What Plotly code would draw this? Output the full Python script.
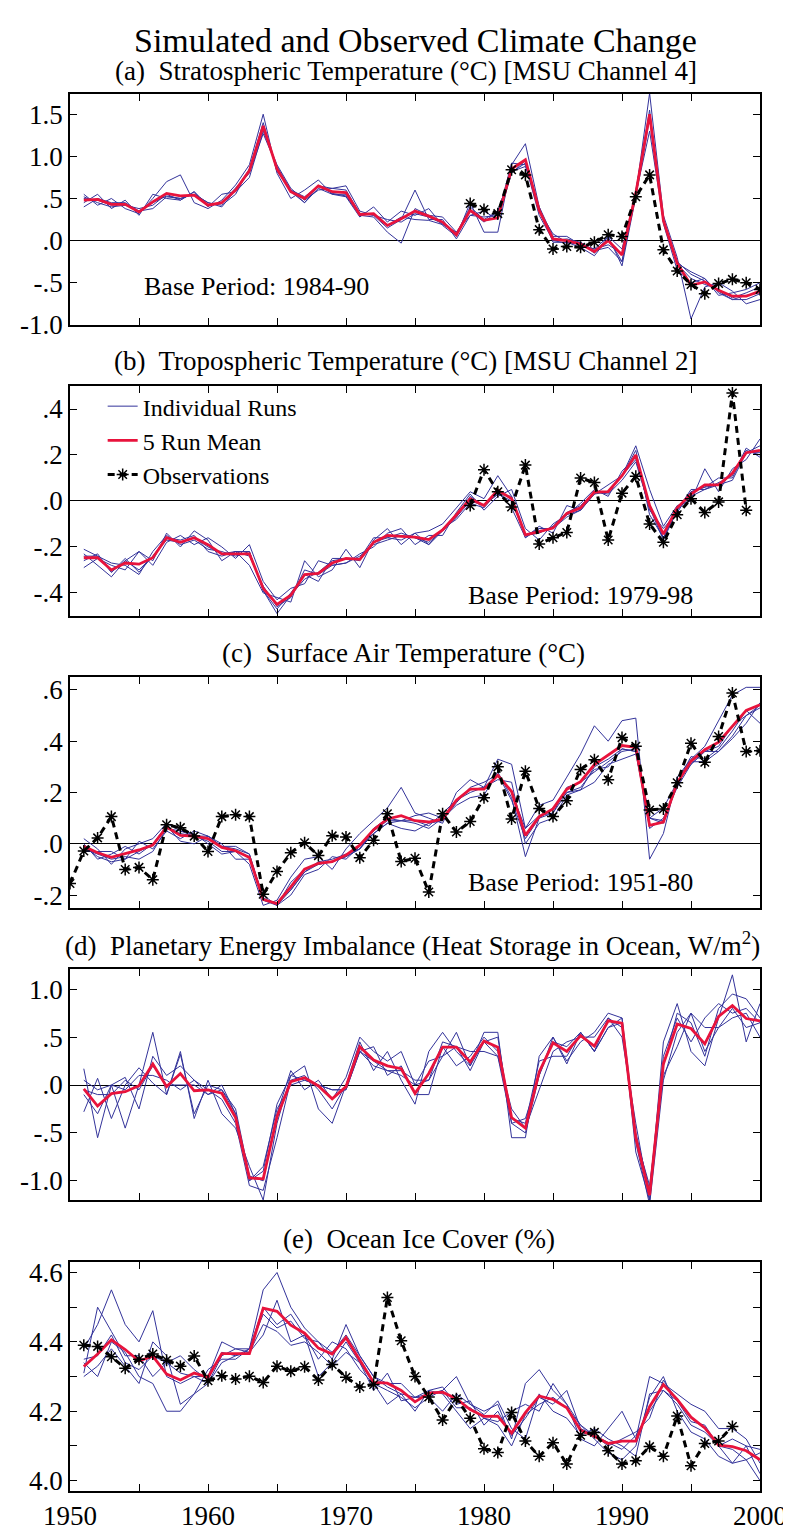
import plotly.graph_objects as go

FONT = "Liberation Serif, Times New Roman, DejaVu Serif, serif"
YEARS = list(range(1951, 2001))

# ---------------- (a) Stratospheric temperature ----------------
A_MEAN = [0.48,0.49,0.43,0.43,0.34,0.46,0.56,0.53,0.54,0.42,
          0.45,0.60,0.83,1.36,0.85,0.58,0.50,0.65,0.58,0.57,
          0.31,0.32,0.18,0.26,0.35,0.29,0.22,0.07,0.36,0.24,
          0.27,0.85,0.96,0.36,0.02,0.00,-0.04,-0.13,0.00,-0.17,
          0.56,1.50,0.24,-0.27,-0.53,-0.49,-0.59,-0.66,-0.66,-0.60]
A_RUN1 = [0.55,0.42,0.50,0.38,0.32,0.50,0.70,0.78,0.45,0.38,
          0.48,0.66,0.90,1.50,0.80,0.50,0.60,0.72,0.55,0.52,
          0.28,0.40,0.22,0.35,0.30,0.38,0.18,0.05,0.45,0.10,
          0.10,0.90,1.15,0.40,0.05,0.05,-0.05,-0.10,0.05,-0.10,
          0.55,1.75,0.30,-0.20,-0.93,-0.55,-0.50,-0.60,-0.75,-0.70]
A_RUN2 = [0.45,0.55,0.38,0.48,0.30,0.55,0.50,0.48,0.58,0.40,
          0.55,0.58,0.75,1.30,0.90,0.62,0.48,0.60,0.62,0.65,
          0.35,0.30,0.15,0.25,0.60,0.25,0.25,0.02,0.30,0.35,
          0.25,0.80,0.95,0.35,0.08,-0.02,-0.08,-0.18,0.03,-0.25,
          0.58,1.55,0.20,-0.35,-0.50,-0.45,-0.65,-0.62,-0.58,-0.50]
A_RUN3 = [0.40,0.50,0.45,0.45,0.35,0.38,0.52,0.50,0.55,0.45,
          0.42,0.55,0.85,1.40,0.82,0.60,0.45,0.62,0.55,0.55,
          0.30,0.28,0.10,-0.03,0.38,0.30,0.28,0.10,0.30,0.28,
          0.30,0.92,0.90,0.30,0.00,0.02,-0.02,-0.15,0.05,-0.30,
          0.52,1.45,0.25,-0.28,-0.45,-0.52,-0.58,-0.68,-0.62,-0.55]
A_RUN4 = [0.52,0.45,0.40,0.42,0.38,0.42,0.55,0.48,0.58,0.42,
          0.45,0.62,0.80,1.27,0.88,0.60,0.52,0.65,0.62,0.60,
          0.32,0.30,0.25,0.22,0.32,0.28,0.20,0.08,0.40,0.25,
          0.35,0.82,0.88,0.40,-0.02,-0.02,-0.05,-0.10,-0.05,-0.15,
          0.60,1.50,0.22,-0.25,-0.40,-0.48,-0.60,-0.70,-0.65,-0.62]
A_RUN5 = [0.50,0.48,0.42,0.43,0.35,0.45,0.53,0.50,0.55,0.45,
          0.40,0.60,0.85,1.35,0.85,0.58,0.45,0.65,0.56,0.53,
          0.30,0.32,0.18,0.28,0.25,0.24,0.19,0.10,0.35,0.22,
          0.35,0.81,0.92,0.35,0.00,-0.03,-0.02,-0.12,-0.08,-0.25,
          0.55,1.30,0.23,-0.27,-0.37,-0.45,-0.62,-0.70,-0.70,-0.63]
A_OBS_YEARS = list(range(1979, 2001))
A_OBS = [0.44,0.37,0.32,0.84,0.78,0.13,-0.10,-0.07,-0.08,-0.02,0.07,
         0.05,0.52,0.78,-0.11,-0.36,-0.52,-0.63,-0.51,-0.46,-0.50,-0.58]

# ---------------- (b) Tropospheric temperature ----------------
B_MEAN = [-0.247,-0.247,-0.30,-0.27,-0.275,-0.247,-0.16,-0.18,-0.16,-0.19,
          -0.23,-0.23,-0.23,-0.38,-0.45,-0.41,-0.32,-0.315,-0.27,-0.25,
          -0.254,-0.18,-0.15,-0.154,-0.157,-0.168,-0.126,-0.06,0.01,-0.02,
          0.046,0.01,-0.147,-0.133,-0.118,-0.054,-0.03,0.039,0.041,0.11,
          0.20,-0.02,-0.144,-0.03,0.03,0.07,0.07,0.12,0.21,0.22]
B_RUN1 = [-0.23,-0.28,-0.33,-0.26,-0.22,-0.26,-0.14,-0.20,-0.13,-0.17,
          -0.26,-0.22,-0.28,-0.40,-0.42,-0.44,-0.26,-0.33,-0.30,-0.21,
          -0.29,-0.17,-0.12,-0.19,-0.14,-0.13,-0.10,-0.03,0.04,0.01,
          0.11,0.02,-0.16,-0.11,-0.14,-0.02,-0.04,0.03,0.07,0.11,
          0.24,0.05,-0.11,-0.02,0.00,0.14,0.04,0.14,0.18,0.27]
B_RUN2 = [-0.29,-0.25,-0.28,-0.30,-0.22,-0.28,-0.18,-0.15,-0.19,-0.16,
          -0.20,-0.25,-0.19,-0.35,-0.43,-0.38,-0.36,-0.26,-0.28,-0.27,
          -0.23,-0.20,-0.14,-0.12,-0.19,-0.15,-0.15,-0.05,0.03,-0.04,
          0.02,0.05,-0.12,-0.17,-0.10,-0.06,-0.01,0.05,0.02,0.13,
          0.19,-0.04,-0.12,-0.05,0.04,0.06,0.10,0.10,0.22,0.20]
B_RUN3 = [-0.24,-0.24,-0.27,-0.28,-0.32,-0.22,-0.15,-0.19,-0.17,-0.21,
          -0.22,-0.24,-0.22,-0.39,-0.47,-0.40,-0.32,-0.35,-0.25,-0.25,
          -0.26,-0.18,-0.16,-0.14,-0.16,-0.19,-0.12,-0.08,-0.01,-0.03,
          0.04,-0.03,-0.16,-0.12,-0.12,-0.07,-0.04,0.04,0.03,0.09,
          0.17,-0.03,-0.17,-0.04,0.02,0.05,0.08,0.11,0.23,0.19]
B_RUN4 = [-0.26,-0.23,-0.31,-0.25,-0.31,-0.24,-0.16,-0.17,-0.15,-0.22,
          -0.24,-0.22,-0.24,-0.37,-0.46,-0.42,-0.30,-0.32,-0.28,-0.27,
          -0.24,-0.19,-0.17,-0.15,-0.16,-0.18,-0.13,-0.07,0.02,-0.02,
          0.03,0.02,-0.15,-0.14,-0.11,-0.05,-0.02,0.04,0.04,0.11,
          0.22,-0.06,-0.16,-0.03,0.04,0.06,0.07,0.12,0.21,0.24]
B_RUN5 = [-0.21,-0.24,-0.31,-0.26,-0.30,-0.24,-0.17,-0.18,-0.16,-0.20,
          -0.23,-0.22,-0.22,-0.39,-0.49,-0.41,-0.34,-0.31,-0.26,-0.25,
          -0.25,-0.16,-0.16,-0.17,-0.14,-0.19,-0.13,-0.07,0.00,-0.02,
          0.03,0.00,-0.15,-0.12,-0.12,-0.06,-0.04,0.03,0.04,0.11,
          0.18,-0.02,-0.16,-0.04,0.05,0.05,0.07,0.09,0.21,0.21]
B_OBS_YEARS = list(range(1979, 2000))
B_OBS = [-0.02,0.136,0.04,-0.026,0.156,-0.187,-0.16,-0.137,0.10,0.08,-0.17,
         0.034,0.107,-0.10,-0.18,-0.06,0.01,-0.05,-0.004,0.47,-0.04]

# ---------------- (c) Surface air temperature ----------------
C_MEAN = [-0.01,-0.035,-0.053,-0.04,-0.024,-0.005,0.065,0.033,0.03,0.02,
          -0.014,-0.027,-0.053,-0.217,-0.233,-0.168,-0.099,-0.076,-0.07,-0.044,
          -0.005,0.055,0.097,0.11,0.09,0.085,0.097,0.17,0.213,0.213,
          0.267,0.204,0.033,0.106,0.136,0.213,0.242,0.309,0.347,0.383,
          0.376,0.072,0.085,0.238,0.322,0.367,0.396,0.456,0.52,0.542]
C_RUN1 = [0.02,-0.02,-0.08,-0.02,0.00,0.02,0.08,0.05,0.04,0.00,
          -0.04,-0.03,-0.08,-0.24,-0.22,-0.13,-0.06,-0.05,-0.10,-0.02,
          0.04,0.09,0.14,0.22,0.12,0.10,0.08,0.20,0.25,0.22,
          0.33,0.31,0.06,0.15,0.17,0.26,0.35,0.46,0.40,0.48,
          0.49,-0.06,0.04,0.26,0.33,0.38,0.48,0.58,0.61,0.61]
C_RUN2 = [-0.03,-0.03,-0.03,-0.06,0.01,-0.02,0.05,0.02,0.05,0.03,
          0.00,-0.06,-0.06,-0.20,-0.24,-0.20,-0.12,-0.10,-0.05,-0.06,
          -0.01,0.04,0.08,0.09,0.08,0.06,0.10,0.17,0.20,0.22,
          0.25,0.24,0.00,0.08,0.10,0.19,0.21,0.30,0.33,0.37,
          0.36,0.06,0.10,0.22,0.31,0.36,0.38,0.46,0.50,0.53]
C_RUN3 = [-0.01,-0.05,-0.07,-0.06,-0.03,0.00,0.07,0.01,0.00,0.03,
          -0.01,-0.02,-0.04,-0.22,-0.24,-0.15,-0.10,-0.08,-0.07,-0.05,
          -0.02,0.06,0.10,0.09,0.11,0.12,0.10,0.15,0.18,0.19,
          0.28,0.18,-0.05,0.10,0.12,0.22,0.24,0.28,0.32,0.36,
          0.37,0.10,0.14,0.24,0.34,0.33,0.37,0.44,0.52,0.47]
C_RUN4 = [0.00,-0.06,-0.04,-0.01,-0.04,0.00,0.06,0.04,0.03,0.01,
          -0.03,-0.03,-0.05,-0.22,-0.23,-0.18,-0.11,-0.07,-0.06,-0.04,
          -0.02,0.05,0.09,0.09,0.09,0.07,0.12,0.17,0.21,0.22,
          0.27,0.20,0.06,0.11,0.12,0.20,0.22,0.29,0.30,0.37,
          0.36,0.10,0.09,0.24,0.31,0.36,0.36,0.42,0.50,0.54]
C_RUN5 = [-0.02,-0.04,-0.06,-0.05,-0.06,-0.03,0.06,0.05,0.03,0.03,
          -0.01,-0.01,-0.04,-0.21,-0.24,-0.18,-0.11,-0.08,-0.07,-0.05,
          -0.02,0.04,0.08,0.06,0.05,0.08,0.09,0.16,0.22,0.24,
          0.27,0.17,0.02,0.10,0.14,0.20,0.21,0.24,0.31,0.33,
          0.35,0.10,0.08,0.23,0.32,0.32,0.36,0.41,0.47,0.55]
C_OBS_YEARS = list(range(1950, 2001))
C_OBS = [-0.155,-0.028,0.023,0.106,-0.10,-0.092,-0.14,0.074,0.063,0.03,
         -0.03,0.106,0.113,0.106,-0.197,-0.108,-0.035,0.004,-0.046,0.031,
         0.027,-0.054,0.014,0.117,-0.069,-0.056,-0.188,0.117,0.046,0.087,
         0.18,0.30,0.097,0.283,0.138,0.106,0.168,0.29,0.328,0.25,
         0.414,0.38,0.132,0.136,0.238,0.392,0.318,0.418,0.588,0.36,0.363]

# ---------------- (d) Planetary energy imbalance ----------------
D_MEAN = [-0.04,-0.22,-0.09,-0.07,-0.007,0.22,-0.017,0.12,-0.06,-0.05,
          -0.086,-0.34,-0.97,-0.98,-0.33,0.034,0.076,-0.01,-0.144,-0.017,
          0.40,0.26,0.20,0.17,-0.086,0.12,0.395,0.395,0.24,0.46,
          0.395,-0.34,-0.45,0.137,0.44,0.35,0.515,0.405,0.67,0.646,
          -0.55,-1.15,0.22,0.636,0.59,0.43,0.715,0.83,0.694,0.67]
D_RUN1 = [0.17,-0.55,0.00,-0.45,0.00,0.55,-0.10,0.35,-0.35,0.05,
          -0.30,-0.45,-0.85,-1.20,-0.40,0.10,0.20,-0.25,-0.40,0.00,
          0.45,0.15,0.35,0.05,-0.20,0.35,0.55,0.35,0.20,0.55,
          0.55,-0.55,-0.55,0.30,0.50,0.22,0.55,0.35,0.70,0.50,
          -0.40,-1.20,0.45,0.85,0.35,0.20,0.70,1.15,0.45,0.85]
D_RUN2 = [-0.28,0.07,-0.35,0.00,0.18,0.02,-0.10,0.32,-0.30,0.00,
          -0.05,-0.25,-0.95,-1.00,-0.30,0.15,-0.05,0.05,-0.15,0.08,
          0.50,0.35,0.25,0.35,0.00,0.25,0.30,0.40,0.15,0.45,
          0.50,-0.40,-0.50,0.10,0.50,0.25,0.45,0.55,0.75,0.70,
          -0.70,-1.20,0.20,0.75,0.65,0.30,0.80,0.95,0.90,0.70]
D_RUN3 = [0.05,-0.05,0.00,0.08,-0.25,0.30,0.10,0.20,0.05,-0.10,
          -0.05,-0.30,-1.00,-0.90,-0.20,0.10,0.05,0.00,-0.05,-0.05,
          0.35,0.20,0.15,0.10,0.00,0.05,0.45,0.40,0.35,0.35,
          0.30,-0.25,-0.45,-0.05,0.35,0.45,0.50,0.50,0.70,0.60,
          -0.60,-1.25,0.05,0.55,0.75,0.60,0.60,0.70,0.75,0.50]
D_RUN4 = [-0.10,-0.30,0.00,-0.05,0.10,0.10,0.05,-0.05,0.05,-0.05,
          -0.15,-0.40,-1.05,-1.10,-0.55,0.05,0.10,-0.05,-0.25,0.00,
          0.35,0.40,0.10,0.20,-0.10,-0.10,0.40,0.20,0.30,0.50,
          0.35,-0.35,-0.40,0.25,0.30,0.30,0.55,0.35,0.60,0.70,
          -0.50,-1.10,0.30,0.70,0.45,0.70,0.85,0.75,0.80,0.65]
D_RUN5 = [-0.05,-0.10,-0.10,0.05,-0.05,0.20,0.00,0.00,0.00,-0.10,
          0.00,-0.30,-1.00,-0.85,-0.25,0.00,0.05,0.00,-0.05,-0.05,
          0.35,0.25,0.15,0.15,0.05,0.05,0.30,0.55,0.20,0.45,
          0.30,-0.40,-0.35,0.10,0.45,0.40,0.55,0.35,0.60,0.65,
          -0.55,-1.05,0.10,0.40,0.75,0.35,0.60,0.80,0.60,0.65]

# ---------------- (e) Ocean ice cover ----------------
E_MEAN = [4.329,4.365,4.406,4.378,4.345,4.359,4.307,4.29,4.31,4.298,
          4.366,4.366,4.366,4.497,4.488,4.448,4.425,4.382,4.365,4.412,
          4.349,4.283,4.281,4.26,4.227,4.252,4.255,4.236,4.205,4.185,
          4.186,4.137,4.196,4.244,4.234,4.21,4.145,4.128,4.107,4.114,
          4.114,4.213,4.277,4.234,4.183,4.152,4.102,4.098,4.086,4.06]
E_RUN1 = [4.38,4.45,4.55,4.45,4.40,4.49,4.30,4.28,4.30,4.30,
          4.40,4.38,4.38,4.55,4.60,4.50,4.44,4.40,4.35,4.45,
          4.36,4.30,4.28,4.28,4.24,4.25,4.26,4.30,4.22,4.20,
          4.22,4.12,4.28,4.32,4.26,4.22,4.12,4.10,4.15,4.20,
          4.12,4.30,4.28,4.25,4.22,4.20,4.15,4.15,4.12,4.05]
E_RUN2 = [4.30,4.33,4.38,4.33,4.28,4.40,4.36,4.22,4.25,4.28,
          4.36,4.38,4.37,4.42,4.52,4.40,4.42,4.35,4.40,4.38,
          4.32,4.28,4.22,4.25,4.20,4.26,4.25,4.20,4.15,4.18,
          4.17,4.20,4.22,4.20,4.28,4.22,4.16,4.12,4.08,4.06,
          4.10,4.24,4.30,4.20,4.14,4.12,4.07,4.05,4.06,4.00]
E_RUN3 = [4.34,4.30,4.40,4.37,4.30,4.28,4.20,4.20,4.25,4.32,
          4.35,4.35,4.38,4.50,4.45,4.48,4.42,4.30,4.34,4.40,
          4.34,4.26,4.31,4.23,4.24,4.24,4.20,4.25,4.22,4.19,
          4.23,4.15,4.12,4.25,4.20,4.18,4.13,4.15,4.12,4.10,
          4.07,4.25,4.26,4.22,4.16,4.14,4.10,4.05,4.10,4.02]
E_RUN4 = [4.31,4.50,4.43,4.36,4.36,4.30,4.34,4.36,4.32,4.29,
          4.37,4.36,4.38,4.48,4.44,4.46,4.41,4.40,4.37,4.42,
          4.36,4.30,4.27,4.25,4.24,4.26,4.27,4.22,4.23,4.16,
          4.20,4.13,4.18,4.24,4.22,4.26,4.15,4.13,4.11,4.09,
          4.13,4.20,4.26,4.23,4.18,4.15,4.10,4.09,4.06,4.08]
E_RUN5 = [4.35,4.36,4.42,4.34,4.32,4.36,4.34,4.31,4.30,4.28,
          4.34,4.36,4.37,4.45,4.43,4.39,4.40,4.37,4.33,4.37,
          4.34,4.28,4.26,4.24,4.21,4.24,4.26,4.21,4.21,4.18,
          4.16,4.10,4.19,4.22,4.24,4.21,4.16,4.13,4.10,4.12,
          4.14,4.18,4.29,4.23,4.17,4.16,4.10,4.12,4.10,4.09]
E_OBS_YEARS = list(range(1951, 1999))
E_OBS = [4.39,4.387,4.357,4.324,4.35,4.365,4.347,4.33,4.359,4.288,
         4.302,4.293,4.301,4.283,4.33,4.315,4.328,4.29,4.335,4.298,
         4.27,4.277,4.528,4.403,4.30,4.241,4.175,4.236,4.18,4.092,
         4.081,4.196,4.114,4.07,4.109,4.048,4.131,4.139,4.086,4.048,
         4.057,4.098,4.07,4.186,4.043,4.107,4.114,4.156]

# ---------------- Titles, ticks ----------------
MAIN_TITLE = "Simulated and Observed Climate Change"
PANEL_TITLES = [
    "(a)  Stratospheric Temperature (°C) [MSU Channel 4]",
    "(b)  Tropospheric Temperature (°C) [MSU Channel 2]",
    "(c)  Surface Air Temperature (°C)",
    "(d)  Planetary Energy Imbalance (Heat Storage in Ocean, W/m<sup>2</sup>)",
    "(e)  Ocean Ice Cover (%)",
]
Y_TICKVALS = [
    [-1.0, -0.5, 0.0, 0.5, 1.0, 1.5],
    [-0.4, -0.2, 0.0, 0.2, 0.4],
    [-0.2, 0.0, 0.2, 0.4, 0.6],
    [-1.0, -0.5, 0.0, 0.5, 1.0],
    [4.0, 4.2, 4.4, 4.6],
]
Y_TICKTEXT = [
    ["-1.0", "-.5", ".0", ".5", "1.0", "1.5"],
    ["-.4", "-.2", ".0", ".2", ".4"],
    ["-.2", ".0", ".2", ".4", ".6"],
    ["-1.0", "-.5", ".0", ".5", "1.0"],
    ["4.0", "4.2", "4.4", "4.6"],
]
Y_MINOR = [[], [], [], [], [4.1, 4.3, 4.5]]
Y_RANGES = [[-1.0, 1.74], [-0.5, 0.5], [-0.25, 0.65], [-1.2, 1.21], [3.97, 4.63]]
X_TICKVALS = list(range(1950, 2001, 10))
X_TICKTEXT = ["1950", "1960", "1970", "1980", "1990", "2000"]
X_MINOR = list(range(1955, 2000, 10))
BASE_PERIODS = [("Base Period: 1984-90", 1963.5, -0.54),
                ("Base Period: 1979-98", 1987.0, -0.41),
                ("Base Period: 1951-80", 1987.0, -0.15)]

RUN_COLOR = "#33339a"
MEAN_COLOR = "#e8133c"

# layout geometry (pixel-based)
W, H = 791, 1535
ML, MR, MT, MB = 62, 32, 86, 33
PH = H - MT - MB
PANEL_PX = [(86, 320), (382, 615), (677, 911), (973, 1207), (1270, 1502)]
TITLE_PX = [63, 357, 653, 948, 1247]
TITLE_XPX = [401, 401, 399, 408, 415]


def fy(px):
    return (H - MB - px) / PH


def fx(px):
    return (px - ML) / (W - ML - MR)


panels = [
    (A_MEAN, [A_RUN1, A_RUN2, A_RUN3, A_RUN4, A_RUN5], A_OBS_YEARS, A_OBS),
    (B_MEAN, [B_RUN1, B_RUN2, B_RUN3, B_RUN4, B_RUN5], B_OBS_YEARS, B_OBS),
    (C_MEAN, [C_RUN1, C_RUN2, C_RUN3, C_RUN4, C_RUN5], C_OBS_YEARS, C_OBS),
    (D_MEAN, [D_RUN1, D_RUN2, D_RUN3, D_RUN4, D_RUN5], None, None),
    (E_MEAN, [E_RUN1, E_RUN2, E_RUN3, E_RUN4, E_RUN5], E_OBS_YEARS, E_OBS),
]

TICKFONT = dict(family=FONT, size=27, color="black")
fig = go.Figure()
layout = {}
for i, (mean, runs, oy, ov) in enumerate(panels):
    n = i + 1
    xa = "x" if n == 1 else f"x{n}"
    ya = "y" if n == 1 else f"y{n}"
    legend_panel = (n == 2)
    for k, r in enumerate(runs):
        fig.add_trace(go.Scatter(
            x=YEARS, y=r, xaxis=xa, yaxis=ya, mode="lines",
            line=dict(color=RUN_COLOR, width=1),
            name="Individual Runs", legendrank=1,
            showlegend=legend_panel and k == 0, hoverinfo="skip"))
    fig.add_trace(go.Scatter(
        x=YEARS, y=mean, xaxis=xa, yaxis=ya, mode="lines",
        line=dict(color=MEAN_COLOR, width=2.8),
        name="5 Run Mean", legendrank=2, showlegend=legend_panel))
    if oy is not None:
        fig.add_trace(go.Scatter(
            x=oy, y=ov, xaxis=xa, yaxis=ya, mode="lines+markers",
            line=dict(color="black", width=3, dash="7px,5px"),
            marker=dict(symbol="asterisk-open", size=10, color="black",
                        line=dict(color="black", width=1.5)),
            name="Observations", legendrank=3, showlegend=legend_panel))
    top, bot = PANEL_PX[i]
    key = "" if n == 1 else str(n)
    layout["xaxis" + key] = dict(
        domain=[0, 1], range=[1950, 2000], anchor=ya,
        tickmode="array", tickvals=X_TICKVALS, ticktext=X_TICKTEXT,
        showticklabels=(n == 5),
        minor=dict(tickmode="array", tickvals=X_MINOR, ticks="inside",
                   ticklen=7, tickwidth=1, tickcolor="black", showgrid=False),
        ticks="inside", ticklen=7, tickwidth=1, tickcolor="black",
        showline=True, linecolor="black", linewidth=1.5, mirror="ticks",
        showgrid=False, zeroline=False, tickfont=TICKFONT)
    ydict = dict(
        domain=[fy(bot), fy(top)], range=Y_RANGES[i], anchor=xa,
        tickmode="array", tickvals=Y_TICKVALS[i], ticktext=Y_TICKTEXT[i],
        ticks="inside", ticklen=7, tickwidth=1, tickcolor="black",
        showline=True, linecolor="black", linewidth=1.5, mirror="ticks",
        showgrid=False, zeroline=(n != 5), zerolinecolor="black",
        zerolinewidth=1, tickfont=TICKFONT)
    if Y_MINOR[i]:
        ydict["minor"] = dict(tickmode="array", tickvals=Y_MINOR[i],
                              ticks="inside", ticklen=7, tickwidth=1,
                              tickcolor="black", showgrid=False)
    layout["yaxis" + key] = ydict

annotations = [dict(text=MAIN_TITLE, x=0.5, y=fy(32), xref="paper",
                    yref="paper", showarrow=False, xanchor="center",
                    yanchor="middle",
                    font=dict(family=FONT, size=34, color="black"))]
for i, t in enumerate(PANEL_TITLES):
    annotations.append(dict(text=t, x=fx(TITLE_XPX[i]), y=fy(TITLE_PX[i]),
                            xref="paper", yref="paper", showarrow=False,
                            xanchor="center", yanchor="middle",
                            font=dict(family=FONT, size=27, color="black")))
for i, (t, bx, by) in enumerate(BASE_PERIODS):
    n = i + 1
    annotations.append(dict(text=t, x=bx, y=by,
                            xref="x" if n == 1 else f"x{n}",
                            yref="y" if n == 1 else f"y{n}",
                            showarrow=False, xanchor="center",
                            yanchor="middle",
                            font=dict(family=FONT, size=26, color="black")))

fig.update_layout(
    width=W, height=H,
    margin=dict(l=ML, r=MR, t=MT, b=MB),
    paper_bgcolor="white", plot_bgcolor="white",
    annotations=annotations,
    legend=dict(x=fx(95), y=fy(380), xanchor="left", yanchor="top",
                bgcolor="rgba(0,0,0,0)", tracegroupgap=0,
                font=dict(family=FONT, size=24, color="black")),
    **layout,
)

fig.write_html("out.html")
